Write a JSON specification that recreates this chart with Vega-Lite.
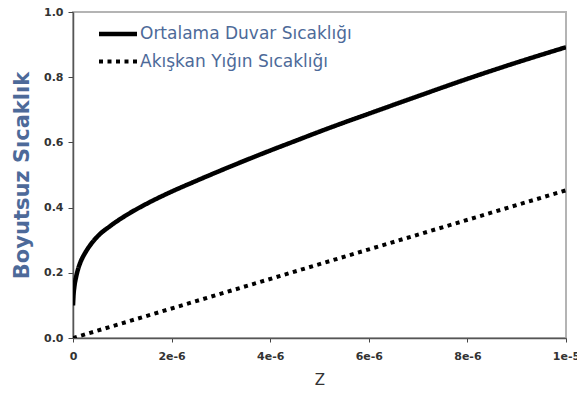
{
  "$schema": "https://vega.github.io/schema/vega-lite/v6.json",
  "width": 493,
  "height": 326,
  "autosize": {"type": "none"},
  "padding": {"left": 73, "top": 12, "right": 11, "bottom": 56},
  "background": "white",
  "config": {
    "view": {"stroke": "#b4b4b4", "strokeWidth": 2},
    "font": "DejaVu Sans"
  },
  "data": {
    "values": [
      {"z": 0, "v": 0.10, "s": "Ortalama Duvar Sıcaklığı"},
      {"z": 0.01e-6, "v": 0.13, "s": "Ortalama Duvar Sıcaklığı"},
      {"z": 0.03e-6, "v": 0.16, "s": "Ortalama Duvar Sıcaklığı"},
      {"z": 0.06e-6, "v": 0.185, "s": "Ortalama Duvar Sıcaklığı"},
      {"z": 0.1e-6, "v": 0.21, "s": "Ortalama Duvar Sıcaklığı"},
      {"z": 0.15e-6, "v": 0.232, "s": "Ortalama Duvar Sıcaklığı"},
      {"z": 0.25e-6, "v": 0.262, "s": "Ortalama Duvar Sıcaklığı"},
      {"z": 0.35e-6, "v": 0.285, "s": "Ortalama Duvar Sıcaklığı"},
      {"z": 0.5e-6, "v": 0.312, "s": "Ortalama Duvar Sıcaklığı"},
      {"z": 0.75e-6, "v": 0.343, "s": "Ortalama Duvar Sıcaklığı"},
      {"z": 1e-6, "v": 0.369, "s": "Ortalama Duvar Sıcaklığı"},
      {"z": 1.3e-6, "v": 0.396, "s": "Ortalama Duvar Sıcaklığı"},
      {"z": 1.6e-6, "v": 0.42, "s": "Ortalama Duvar Sıcaklığı"},
      {"z": 2e-6, "v": 0.449, "s": "Ortalama Duvar Sıcaklığı"},
      {"z": 2.5e-6, "v": 0.482, "s": "Ortalama Duvar Sıcaklığı"},
      {"z": 3e-6, "v": 0.514, "s": "Ortalama Duvar Sıcaklığı"},
      {"z": 3.5e-6, "v": 0.545, "s": "Ortalama Duvar Sıcaklığı"},
      {"z": 4e-6, "v": 0.575, "s": "Ortalama Duvar Sıcaklığı"},
      {"z": 4.5e-6, "v": 0.604, "s": "Ortalama Duvar Sıcaklığı"},
      {"z": 5e-6, "v": 0.633, "s": "Ortalama Duvar Sıcaklığı"},
      {"z": 5.5e-6, "v": 0.661, "s": "Ortalama Duvar Sıcaklığı"},
      {"z": 6e-6, "v": 0.688, "s": "Ortalama Duvar Sıcaklığı"},
      {"z": 7e-6, "v": 0.742, "s": "Ortalama Duvar Sıcaklığı"},
      {"z": 8e-6, "v": 0.795, "s": "Ortalama Duvar Sıcaklığı"},
      {"z": 9e-6, "v": 0.845, "s": "Ortalama Duvar Sıcaklığı"},
      {"z": 1e-5, "v": 0.892, "s": "Ortalama Duvar Sıcaklığı"},
      {"z": 0, "v": 0.0, "s": "Akışkan Yığın Sıcaklığı"},
      {"z": 1e-5, "v": 0.453, "s": "Akışkan Yığın Sıcaklığı"}
    ]
  },
  "mark": {"type": "line", "color": "black", "interpolate": "monotone", "clip": true},
  "encoding": {
    "x": {
      "field": "z",
      "type": "quantitative",
      "scale": {"domain": [0, 1e-5], "nice": false, "zero": true},
      "axis": {
        "title": "Z",
        "titleFont": "DejaVu Sans",
        "titleFontSize": 15,
        "titleFontWeight": "normal",
        "titleColor": "#333333",
        "titlePadding": 11,
        "values": [0, 2e-6, 4e-6, 6e-6, 8e-6, 1e-5],
        "labelExpr": "datum.value == 0 ? '0' : (datum.value > 9.5e-6 ? '1e-5' : round(datum.value * 1e6) + 'e-6')",
        "labelFont": "DejaVu Sans",
        "labelFontSize": 11,
        "labelFontWeight": "bold",
        "labelColor": "#333333",
        "labelPadding": 8,
        "labelFlush": false,
        "labelOverlap": false,
        "tickSize": 4,
        "tickColor": "#444444",
        "domainColor": "#555555",
        "domainWidth": 1.5,
        "grid": false
      }
    },
    "y": {
      "field": "v",
      "type": "quantitative",
      "scale": {"domain": [0, 1], "nice": false},
      "axis": {
        "title": "Boyutsuz Sıcaklık",
        "titleFont": "DejaVu Sans",
        "titleFontSize": 21,
        "titleFontWeight": "bold",
        "titleColor": "#4d6a99",
        "titlePadding": 11,
        "values": [0, 0.2, 0.4, 0.6, 0.8, 1.0],
        "format": ".1f",
        "labelFont": "DejaVu Sans",
        "labelFontSize": 11,
        "labelFontWeight": "bold",
        "labelColor": "#333333",
        "labelPadding": 5,
        "labelFlush": false,
        "tickSize": 5,
        "tickColor": "#444444",
        "domainColor": "#555555",
        "domainWidth": 1.5,
        "grid": false
      }
    },
    "strokeDash": {
      "field": "s",
      "type": "nominal",
      "scale": {
        "domain": ["Ortalama Duvar Sıcaklığı", "Akışkan Yığın Sıcaklığı"],
        "range": [[1, 0], [4, 4.5]]
      },
      "legend": {
        "title": null,
        "orient": "none",
        "legendX": 33,
        "legendY": 10,
        "padding": 0,
        "symbolType": "M-2,0H2",
        "symbolSize": 361,
        "symbolStrokeWidth": 4.5,
        "symbolStrokeColor": "black",
        "symbolFillColor": "transparent",
        "labelFont": "DejaVu Sans",
        "labelFontSize": 17,
        "labelColor": "#4d6a99",
        "labelOffset": 10,
        "labelLimit": 400,
        "rowPadding": 7
      }
    },
    "strokeWidth": {
      "field": "s",
      "type": "nominal",
      "scale": {
        "domain": ["Ortalama Duvar Sıcaklığı", "Akışkan Yığın Sıcaklığı"],
        "range": [4.5, 4]
      },
      "legend": null
    }
  }
}
